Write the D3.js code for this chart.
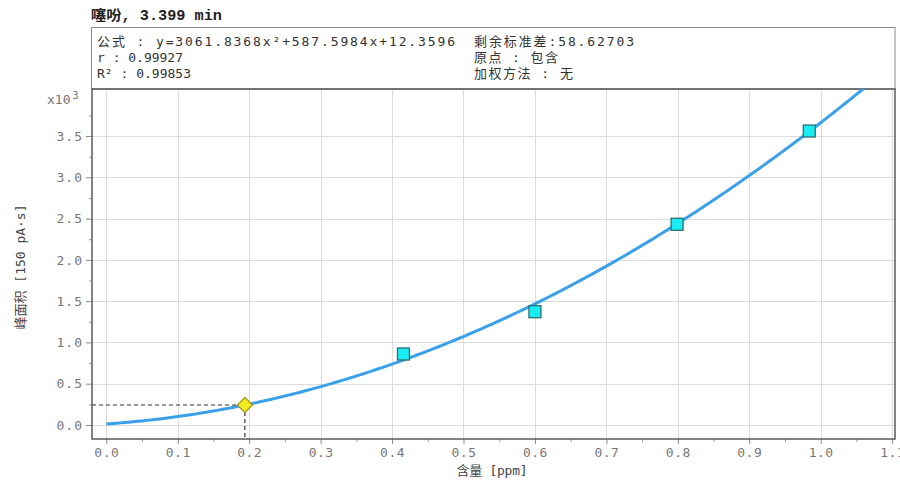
<!DOCTYPE html>
<html>
<head>
<meta charset="utf-8">
<script src="https://cdn.jsdelivr.net/npm/d3@7"></script>
<style>
  html, body { margin: 0; padding: 0; background: #fff; }
  svg { display: block; }
  .mono { font-family: "DejaVu Sans Mono", "Noto Sans CJK SC", monospace; }
</style>
</head>
<body>
<svg id="chart" width="900" height="488"></svg>
<script>
// Calibration standards: amount [ppm] and peak area [x10^3, 150 pA·s]
const stdAmount = [0.416, 0.600, 0.799, 0.984];
const stdArea   = [0.860, 1.372, 2.431, 3.561];

// Quadratic fit coefficients (a·x² + b·x + c), area in raw units
const fitCoef = [3061.8368, 587.5984, 12.3596];

// Quantified sample
const sampleAmount = [0.194];

// Axis ticks
const xTicks = [0.0, 0.1, 0.2, 0.3, 0.4, 0.5, 0.6, 0.7, 0.8, 0.9, 1.0, 1.1];
const yTicks = [0.0, 0.5, 1.0, 1.5, 2.0, 2.5, 3.0, 3.5];
const xMinor = [0.05, 0.15, 0.25, 0.35, 0.45, 0.55, 0.65, 0.75, 0.85, 0.95, 1.05];
const yMinor = [0.25, 0.75, 1.25, 1.75, 2.25, 2.75, 3.25, 3.75];

// Header text
const titleText = "噻吩, 3.399 min";
const infoLeft  = ["公式 : y=3061.8368x²+587.5984x+12.3596", "r : 0.99927", "R² : 0.99853"];
const infoRight = ["剩余标准差:58.62703", "原点 : 包含", "加权方法 : 无"];
const xLabel = "含量 [ppm]";
const yLabel = "峰面积 [150 pA·s]";

const fit = x => (fitCoef[0] * x * x + fitCoef[1] * x + fitCoef[2]) / 1000;

const svg = d3.select("#chart");
const plot = { left: 92, right: 895, top: 89, bottom: 439 };

const x = d3.scaleLinear().domain([-0.02, 1.104]).range([plot.left, plot.right]);
const y = d3.scaleLinear().domain([-0.17, 4.07]).range([plot.bottom, plot.top]);

// Title
svg.append("text")
  .attr("x", 91).attr("y", 20)
  .attr("font-family", "'Liberation Mono', 'Noto Sans CJK SC', monospace")
  .attr("font-weight", "bold").attr("font-size", 14)
  .attr("fill", "#222")
  .attr("textLength", 131).attr("lengthAdjust", "spacingAndGlyphs")
  .text(titleText);

// Header info box
svg.append("rect")
  .attr("x", 91.5).attr("y", 27.5)
  .attr("width", plot.right - 91.5).attr("height", plot.top - 27.5)
  .attr("fill", "#fff").attr("stroke", "#8c8c8c").attr("stroke-width", 1);

const leftLens = [358, 86, 94];
const rightLens = [160, 84, 99];
const rowY = [46, 62, 78];
infoLeft.forEach((t, i) => {
  svg.append("text").attr("class", "mono")
    .attr("x", 97).attr("y", rowY[i])
    .attr("font-size", 13).attr("fill", "#333")
    .attr("textLength", leftLens[i]).attr("lengthAdjust", "spacing")
    .text(t);
});
infoRight.forEach((t, i) => {
  svg.append("text").attr("class", "mono")
    .attr("x", 474).attr("y", rowY[i])
    .attr("font-size", 13).attr("fill", "#333")
    .attr("textLength", rightLens[i]).attr("lengthAdjust", "spacing")
    .text(t);
});

// Grid
const grid = svg.append("g").attr("stroke", "#dcdcdc").attr("stroke-width", 1);
grid.selectAll("line.gx").data(xTicks).join("line")
  .attr("x1", d => Math.round(x(d)) + 0.5).attr("x2", d => Math.round(x(d)) + 0.5)
  .attr("y1", plot.top).attr("y2", plot.bottom);
grid.selectAll("line.gy").data(yTicks).join("line")
  .attr("y1", d => Math.round(y(d)) + 0.5).attr("y2", d => Math.round(y(d)) + 0.5)
  .attr("x1", plot.left).attr("x2", plot.right);

// Axes with outward major/minor ticks
const xAxis = d3.axisBottom(x).tickValues(xTicks).tickFormat(d3.format(".1f")).tickSize(5).tickPadding(3);
const yAxis = d3.axisLeft(y).tickValues(yTicks).tickFormat(d3.format(".1f")).tickSize(6).tickPadding(3);

const gx = svg.append("g").attr("transform", `translate(0,${plot.bottom})`).call(xAxis);
const gy = svg.append("g").attr("transform", `translate(${plot.left},0)`).call(yAxis);
[gx, gy].forEach(g => {
  g.select(".domain").remove();
  g.selectAll(".tick line").attr("stroke", "#8a8a8a");
  g.selectAll(".tick text")
    .attr("font-family", "'DejaVu Sans Mono', monospace")
    .attr("font-size", 13).attr("fill", "#777");
});
gx.selectAll(".tick text").attr("dy", "0.78em").attr("letter-spacing", 0.5);
gy.selectAll(".tick text").attr("x", -9).attr("letter-spacing", 1);

svg.append("g").attr("transform", `translate(0,${plot.bottom})`)
  .call(d3.axisBottom(x).tickValues(xMinor).tickFormat("").tickSize(3))
  .call(g => g.select(".domain").remove())
  .selectAll(".tick line").attr("stroke", "#9a9a9a");
svg.append("g").attr("transform", `translate(${plot.left},0)`)
  .call(d3.axisLeft(y).tickValues(yMinor).tickFormat("").tickSize(3))
  .call(g => g.select(".domain").remove())
  .selectAll(".tick line").attr("stroke", "#9a9a9a");

// Plot frame
svg.append("rect")
  .attr("x", plot.left).attr("y", plot.top)
  .attr("width", plot.right - plot.left).attr("height", plot.bottom - plot.top)
  .attr("fill", "none").attr("stroke", "#5a5a5a").attr("stroke-width", 1.5);

// Exponent marker
const expo = svg.append("text")
  .attr("x", 47).attr("y", 104)
  .attr("font-family", "'DejaVu Sans Mono', monospace")
  .attr("font-size", 13).attr("fill", "#777");
expo.append("tspan").text("x10");
expo.append("tspan").attr("dy", -5).attr("dx", 2).attr("font-size", 10).text("3");

// Axis titles
svg.append("text")
  .attr("x", 492).attr("y", 475).attr("text-anchor", "middle")
  .attr("font-family", "'DejaVu Sans Mono', 'Noto Sans CJK SC', monospace")
  .attr("font-size", 13).attr("fill", "#444")
  .attr("textLength", 71).attr("lengthAdjust", "spacing")
  .text(xLabel);
svg.append("text")
  .attr("transform", "translate(25,267) rotate(-90)")
  .attr("text-anchor", "middle")
  .attr("font-family", "'DejaVu Sans Mono', 'Noto Sans CJK SC', monospace")
  .attr("font-size", 13).attr("fill", "#444")
  .attr("textLength", 125).attr("lengthAdjust", "spacing")
  .text(yLabel);

// Clip for data
svg.append("clipPath").attr("id", "plotClip")
  .append("rect")
  .attr("x", plot.left).attr("y", plot.top)
  .attr("width", plot.right - plot.left).attr("height", plot.bottom - plot.top);

const dataG = svg.append("g").attr("clip-path", "url(#plotClip)");

// Fitted calibration curve
const curveX = d3.range(0, 1.1001, 0.005);
dataG.append("path")
  .datum(curveX)
  .attr("fill", "none").attr("stroke", "#3ba0ea").attr("stroke-width", 3)
  .attr("d", d3.line().x(d => x(d)).y(d => y(fit(d))));

// Sample guide lines
const sx = sampleAmount[0], sy = fit(sampleAmount[0]);
dataG.append("line")
  .attr("x1", plot.left).attr("x2", x(sx))
  .attr("y1", y(sy)).attr("y2", y(sy))
  .attr("stroke", "#333").attr("stroke-width", 1.2).attr("stroke-dasharray", "4,3");
dataG.append("line")
  .attr("x1", x(sx)).attr("x2", x(sx))
  .attr("y1", y(sy)).attr("y2", plot.bottom)
  .attr("stroke", "#333").attr("stroke-width", 1.2).attr("stroke-dasharray", "4,3");

// Calibration points
const stds = stdAmount.map((a, i) => ({ a, v: stdArea[i] }));
dataG.selectAll("rect.std").data(stds).join("rect")
  .attr("class", "std")
  .attr("x", d => x(d.a) - 6).attr("y", d => y(d.v) - 6)
  .attr("width", 12).attr("height", 12)
  .attr("fill", "#19ecf2").attr("stroke", "#2c6f70").attr("stroke-width", 1.3);

// Sample marker (diamond)
dataG.append("path")
  .attr("d", d3.symbol().type(d3.symbolSquare).size(115))
  .attr("transform", `translate(${x(sx)},${y(sy)}) rotate(45)`)
  .attr("fill", "#f5ea1c").attr("stroke", "#9a9420").attr("stroke-width", 1.2);
</script>
</body>
</html>
